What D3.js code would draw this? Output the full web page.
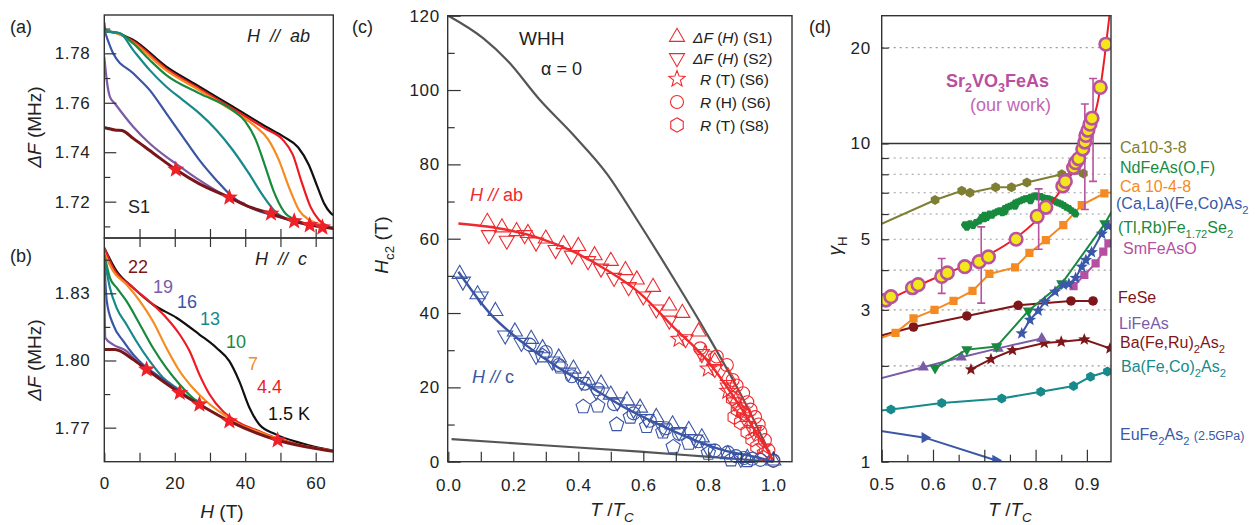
<!DOCTYPE html>
<html><head><meta charset="utf-8">
<script src="https://cdn.jsdelivr.net/npm/d3@7"></script>
<style>
body{margin:0;background:#fff}
text{font-family:Arial,"Liberation Sans",Helvetica,sans-serif;white-space:pre}
</style></head>
<body><svg id="c" width="1260" height="525"></svg>
<script>
// ---------------- DATA ----------------
// Panel (a): ΔF vs H, H // ab, sample S1  [H (T), ΔF (MHz)]
const aK1_5 = [[0,1.789],[3,1.7884],[8,1.7856],[17.6,1.7746],[27,1.7665],[36.4,1.7585],[45.9,1.7503],[51,1.7462],[55,1.742],[58,1.735],[60.5,1.726],[62.5,1.719],[64.2,1.7155],[65,1.7145]];
const aK4_4 = [[0,1.7925],[0.4,1.789],[3.5,1.7882],[8.2,1.7849],[17.6,1.7738],[27,1.7657],[36.4,1.7577],[45.9,1.7494],[50.5,1.7453],[53.5,1.739],[56,1.728],[58.5,1.718],[61,1.7125],[64,1.7098],[65,1.7093]];
const aK7 = [[0,1.789],[3.5,1.7881],[8.2,1.7843],[17.6,1.7731],[27,1.765],[36.4,1.7568],[43,1.7503],[46.5,1.7452],[49.5,1.737],[52.5,1.7255],[55.3,1.7165],[58,1.7128],[61,1.711],[65,1.7093]];
const aK10 = [[0,1.789],[4.4,1.7881],[8.2,1.784],[12.9,1.7773],[17.6,1.7712],[27,1.7638],[36.4,1.757],[40,1.7525],[43,1.745],[45.5,1.735],[48,1.7245],[51,1.716],[54.5,1.7125],[58,1.7108],[65,1.7093]];
const aK13 = [[0,1.789],[4.4,1.7881],[8.2,1.7813],[12.9,1.7732],[17.6,1.7665],[22.3,1.7611],[27,1.7557],[31.8,1.749],[36.4,1.741],[41,1.7315],[45,1.7225],[48.5,1.716],[52,1.7128],[56,1.7112],[65,1.7093]];
const aK16 = [[0,1.7894],[2.5,1.780],[8.2,1.7719],[12.9,1.7651],[17.6,1.7557],[22.3,1.7462],[27,1.7368],[31.8,1.7287],[36.4,1.7219],[42,1.7172],[47.7,1.7145],[53,1.7125],[65,1.7093]];
const aK19 = [[0,1.7786],[0.8,1.768],[1.6,1.7624],[3,1.7597],[8.2,1.7503],[12.9,1.7435],[17.6,1.7381],[20.5,1.7352],[27,1.7287],[33,1.7235],[40,1.719]];
const aK22 = [[0,1.750],[3,1.749],[5,1.7488],[8.2,1.7456],[14,1.7395],[20.3,1.733],[27,1.7272],[35.5,1.7217],[41,1.718],[47.3,1.7152],[53.9,1.7121],[58.3,1.7105],[61.9,1.7098],[65,1.7091]];
const aStars = [[20.3,1.733],[35.5,1.7217],[47.3,1.7152],[53.9,1.7121],[58.3,1.7105],[61.9,1.7096]];

// Panel (b): ΔF vs H, H // c
const bK1_5 = [[0,1.8503],[3.5,1.8399],[8.2,1.8325],[13.8,1.825],[20.5,1.8191],[27,1.8116],[31.8,1.8057],[35.5,1.7997],[38.3,1.7908],[41.2,1.7789],[44,1.7714],[48.7,1.767],[55.3,1.7633],[60,1.7613],[65,1.7598]];
const bK4_4 = [[0,1.8503],[2.5,1.8414],[8.2,1.8325],[13.8,1.825],[17.6,1.8191],[21.4,1.8116],[24.2,1.8042],[27,1.7937],[29.9,1.7848],[33.6,1.7774],[38.3,1.7722],[44,1.7684],[49.2,1.7652],[55,1.7625],[65,1.7597]];
const bK7 = [[0,1.848],[2.5,1.8399],[6.3,1.8339],[10.1,1.8265],[13.8,1.8175],[17.6,1.8057],[21.4,1.7952],[25.1,1.7878],[28.9,1.7818],[34.6,1.7751],[38.3,1.7714],[44,1.768],[50,1.7645],[65,1.7597]];
const bK10 = [[0,1.8473],[1.6,1.8369],[3.5,1.8325],[6.3,1.8265],[10.1,1.8161],[13.8,1.8057],[17.6,1.7967],[21.4,1.7893],[25.1,1.7833],[28,1.7805]];
const bK13 = [[0,1.8458],[1.6,1.8325],[3.5,1.8235],[6.3,1.8161],[9.1,1.8086],[12.9,1.7997],[16.7,1.7923],[20.5,1.7878],[24.2,1.7833],[27,1.781]];
const bK16 = [[0,1.8443],[0.7,1.8265],[2.5,1.8161],[5.4,1.8086],[8.2,1.8027],[11,1.7982],[14.8,1.7937],[18.6,1.7893],[21.4,1.7863]];
const bK19 = [[0,1.8354],[0.3,1.8101],[2.5,1.8071],[6.3,1.8042],[9.1,1.7997],[11.5,1.796]];
const bK22 = [[0,1.8049],[3,1.8049],[8.2,1.8004],[12,1.796],[21.4,1.7856],[27,1.7804],[35.5,1.7729],[49.2,1.7644],[60,1.7607],[65,1.7595]];
const bStars = [[12,1.796],[21.4,1.7856],[27,1.7804],[35.5,1.7729],[49.2,1.7644]];
const bTempLabels = ["22","19","16","13","10","7","4.4","1.5 K"];

// Panel (c): Hc2 vs T/Tc
const whhAb = [[0,120],[0.108,113.9],[0.18,108.1],[0.282,97.3],[0.385,87.9],[0.487,77.6],[0.585,64.5],[0.692,49.5],[0.795,34.5],[0.898,18.4],[0.949,9.6],[1,0]];
const whhC = [[0.01,6.1],[0.28,4.5],[0.59,2.7],[0.795,1.35],[1,0]];
const fitAb = [[0.031,64.1],[0.18,62.4],[0.282,60.1],[0.385,56.5],[0.487,51.6],[0.59,45.3],[0.692,36.3],[0.795,27.4],[0.898,14.8],[0.949,7.6],[0.99,1.8],[1,0]];
const fitC = [[0.031,51.1],[0.128,39.9],[0.231,31.9],[0.333,25.6],[0.436,20.2],[0.538,14.8],[0.641,10.3],[0.744,6.3],[0.846,3.1],[0.949,1.2],[1,0]];
const abS1 = [[0.12,64.5],[0.165,63],[0.21,62],[0.245,61.5],[0.30,60],[0.355,58.5],[0.40,58],[0.45,55.5],[0.50,54],[0.545,51.5],[0.58,49],[0.63,47],[0.68,42],[0.72,40],[0.77,35],[0.82,27],[0.86,23],[0.89,17],[0.92,12]];
const abS2 = [[0.125,61],[0.18,59.5],[0.235,61],[0.27,59],[0.33,57],[0.38,55.5],[0.43,54],[0.47,52],[0.51,49.5],[0.555,47],[0.6,44.5],[0.64,41],[0.68,38],[0.73,33],[0.78,29],[0.82,25],[0.86,20],[0.88,16],[0.91,12],[0.94,8]];
const abS6T = [[0.71,33],[0.79,29],[0.8,25],[0.86,19],[0.9,14],[0.94,9],[0.97,4]];
const abS6H = [[0.775,30.5],[0.826,28.3],[0.857,26],[0.875,22],[0.887,20.5],[0.907,18.4],[0.92,16],[0.93,14],[0.944,12],[0.955,10],[0.96,8],[0.974,5.8],[0.985,3],[1.0,0.3]];
const abS8 = [[0.875,17],[0.88,12],[0.89,14],[0.90,10.5],[0.91,13],[0.92,8],[0.935,6],[0.95,4],[0.97,2]];
const cS1 = [[0.035,50.5],[0.09,45],[0.145,40.5],[0.205,35],[0.255,33],[0.29,30.5],[0.34,28],[0.385,25],[0.43,22],[0.47,21],[0.50,18],[0.55,16.5],[0.59,14.5],[0.64,12],[0.69,10],[0.74,8.5],[0.78,6.5],[0.86,2],[0.92,1],[1.0,0.3]];
const cS2 = [[0.045,48.5],[0.1,44.5],[0.175,34],[0.225,32],[0.27,28.5],[0.32,27],[0.37,24],[0.41,21.5],[0.455,19],[0.52,16],[0.57,14],[0.61,11.5],[0.66,9],[0.71,8],[0.76,6],[0.8,3.5],[0.9,0.8]];
const cS6H = [[0.25,31.5],[0.3,29.5],[0.34,26],[0.38,23],[0.42,21],[0.46,19.5],[0.51,15.5],[0.57,13],[0.62,11],[0.67,9],[0.71,7.5],[0.77,5.5],[0.82,3],[0.86,2.5],[0.885,1.5],[0.91,1],[0.935,0.8],[0.96,0.5],[1.0,0.3]];
const cS8 = [[0.29,28.5],[0.345,25.5],[0.415,14.8],[0.46,15],[0.518,10],[0.56,12],[0.61,9.5],[0.66,8],[0.692,4],[0.74,5],[0.8,2.3],[0.87,0.5],[0.92,0.3]];
const legendC = ["(S1)","(S2)","(S6)","(S6)","(S8)"];

// Panel (d): gamma_H vs T/Tc  [T/Tc, gamma]
const ourWork = [[0.508,3.22],[0.518,3.3],[0.56,3.52],[0.571,3.6],[0.617,3.82],[0.628,3.92],[0.662,4.1],[0.69,4.25],[0.708,4.4],[0.762,5.0],[0.803,5.9],[0.82,6.3],[0.853,7.35],[0.858,7.6],[0.874,8.4],[0.878,8.7],[0.884,8.95],[0.892,9.6],[0.896,10.1],[0.898,10.6],[0.902,11.0],[0.906,11.5],[0.91,12.0],[0.926,15.0],[0.937,20.5]];
const ourFit = [[0.5,3.15],[0.55,3.45],[0.6,3.75],[0.65,4.05],[0.7,4.4],[0.75,4.9],[0.8,5.7],[0.84,6.8],[0.87,8.0],[0.89,9.3],[0.91,11.5],[0.925,14.5],[0.935,19],[0.944,25.2]];
const ourErr = [[0.617,3.38,4.35],[0.694,3.15,5.47],[0.806,4.65,7.2],[0.896,6.2,13.3],[0.912,7.6,16.0]];
const ca1038 = [[0.47,5.32],[0.604,6.64],[0.656,7.1],[0.672,7.0],[0.722,7.28],[0.753,7.28],[0.783,7.54],[0.851,8.0],[0.893,8.05]];
const ndFeAsOF = [[0.662,5.55],[0.666,5.45],[0.672,5.6],[0.678,5.52],[0.684,5.65],[0.69,5.7],[0.695,5.85],[0.70,5.95],[0.705,5.85],[0.71,6.0],[0.715,5.95],[0.72,6.05],[0.725,6.1],[0.73,6.15],[0.735,6.05],[0.74,6.25],[0.745,6.3],[0.75,6.35],[0.755,6.4],[0.76,6.5],[0.765,6.55],[0.77,6.6],[0.775,6.65],[0.78,6.7],[0.785,6.72],[0.79,6.78],[0.795,6.8],[0.80,6.85],[0.805,6.78],[0.81,6.82],[0.815,6.75],[0.82,6.72],[0.825,6.7],[0.83,6.65],[0.835,6.62],[0.84,6.55],[0.845,6.5],[0.85,6.45],[0.855,6.38],[0.86,6.3],[0.865,6.25],[0.87,6.15],[0.875,6.08],[0.878,6.0],[0.76,6.35],[0.79,6.6],[0.82,6.55],[0.70,5.8],[0.74,6.1]];
const ca1048 = [[0.47,2.36],[0.527,2.54],[0.562,2.82],[0.603,3.0],[0.64,3.2],[0.677,3.44],[0.71,3.89],[0.76,4.08],[0.788,4.53],[0.82,4.97],[0.854,5.54],[0.89,6.4],[0.934,6.97],[0.97,7.1]];
const caLaFeCo = [[0.773,2.53],[0.789,2.79],[0.805,2.98],[0.818,3.18],[0.838,3.42],[0.854,3.6],[0.865,3.62],[0.878,3.78],[0.89,4.1],[0.898,4.3],[0.909,4.55],[0.929,5.2],[0.942,5.5]];
const tlRbFeSe = [[0.604,1.97],[0.666,2.25],[0.724,2.30],[0.786,2.98],[0.851,3.63],[0.935,5.6],[0.96,6.6]];
const smFeAsO = [[0.874,3.56],[0.895,3.86],[0.917,4.2],[0.932,4.57],[0.942,4.85]];
const feSe = [[0.47,2.42],[0.562,2.65],[0.666,2.87],[0.766,3.1],[0.869,3.2],[0.912,3.2]];
const liFeAs = [[0.47,1.78],[0.581,1.98],[0.655,2.13],[0.727,2.27],[0.812,2.44]];
const baFeRu = [[0.674,1.95],[0.713,2.10],[0.755,2.24],[0.817,2.36],[0.85,2.38],[0.895,2.42],[0.945,2.27]];
const baFeCo = [[0.47,1.43],[0.518,1.46],[0.617,1.53],[0.734,1.58],[0.81,1.66],[0.874,1.73],[0.907,1.85],[0.94,1.92]];
const euFe2As2 = [[0.47,1.27],[0.584,1.19],[0.722,1.01]];

// tick values
const aYMajor = [1.72,1.74,1.76,1.78], aYMinor = [1.71,1.73,1.75,1.77,1.79];
const bYMajor = [1.77,1.80,1.83], bYMinor = [1.785,1.815,1.845];
const hTicks = [0,10,20,30,40,50,60];
const cYMajor = [0,20,40,60,80,100,120], cYMinor = [10,30,50,70,90,110];
const cXTicks = [0,0.1,0.2,0.3,0.4,0.5,0.6,0.7,0.8,0.9,1.0];
const dYTicks = [1,2,3,4,5,6,7,8,9,10,20], dYLabels = [1,3,5,10,20], dYGrid = [2,3,4,5,6,7,8,9,20];
const dXMajor = [0.5,0.6,0.7,0.8,0.9], dXMinor = [0.55,0.65,0.75,0.85];

// ---------------- HELPERS ----------------
const svg = d3.select('#c');
const FONT = 'Arial, "Liberation Sans", Helvetica, sans-serif';
const AX = '#333';
function polyPath(n, r, startDeg){
  const pts = d3.range(n).map(i=>{const a=(startDeg+i*360/n)*Math.PI/180;return [r*Math.cos(a),r*Math.sin(a)];});
  return 'M'+pts.map(p=>p[0].toFixed(2)+','+p[1].toFixed(2)).join('L')+'Z';
}
function starPath(ro, ri){
  const pts = d3.range(10).map(i=>{const r=i%2?ri:ro;const a=(-90+i*36)*Math.PI/180;return [r*Math.cos(a),r*Math.sin(a)];});
  return 'M'+pts.map(p=>p[0].toFixed(2)+','+p[1].toFixed(2)).join('L')+'Z';
}
function circlePath(r){return `M${r},0A${r},${r} 0 1,1 ${-r},0A${r},${r} 0 1,1 ${r},0Z`;}
function markers(g, data, x, y, path, fill, stroke, sw){
  g.append('g').selectAll('path').data(data).join('path')
    .attr('d', path).attr('transform', d=>`translate(${x(d[0])},${y(d[1])})`)
    .attr('fill', fill).attr('stroke', stroke||'none').attr('stroke-width', sw||0);
}
function rich(parent, x, y, fs, parts, attrs){
  const t = parent.append('text').attr('x',x).attr('y',y).attr('font-size',fs);
  if(attrs) for(const k in attrs) t.attr(k, attrs[k]);
  let cur = 0;
  for(const p of parts){
    const [s,f] = Array.isArray(p)?[p[0],p[1]||'']:[p,''];
    const ts = t.append('tspan').text(s);
    const want = f.includes('s') ? fs*0.3 : 0;
    if(want!==cur){ts.attr('dy', want-cur); cur=want;}
    if(f.includes('i')) ts.attr('font-style','italic');
    if(f.includes('b')) ts.attr('font-weight','bold');
    if(f.includes('s')) ts.attr('font-size', fs*0.7);
    if(f.includes('m')) ts.attr('font-size', fs*0.78);
  }
  return t;
}
function styleAxis(g, fs){
  g.attr('font-size', fs||17).attr('font-family', FONT);
  g.select('.domain').remove();
  g.selectAll('line').attr('stroke', AX).attr('stroke-width', 1.2);
  g.selectAll('text').attr('fill', '#222').attr('letter-spacing', '0.6px');
}
function frame(x0,y0,x1,y1){
  svg.append('rect').attr('x',x0).attr('y',y0).attr('width',x1-x0).attr('height',y1-y0)
    .attr('fill','none').attr('stroke',AX).attr('stroke-width',1.4);
}
function clip(id,x0,y0,x1,y1){
  svg.append('clipPath').attr('id',id).append('rect').attr('x',x0).attr('y',y0).attr('width',x1-x0).attr('height',y1-y0);
}

// ---------------- PANELS (a) & (b) ----------------
const xA = d3.scaleLinear().domain([0,65]).range([104.3,333.3]);
const yA = d3.scaleLinear().domain([1.7053,1.7955]).range([238,15]);
const yB = d3.scaleLinear().domain([1.7548,1.8547]).range([461.7,238]);
clip('clipA',104.3,15,333.3,238);
clip('clipB',104.3,238,333.3,461.7);
const colK = {k1_5:'#111111',k4_4:'#ed1c24',k7:'#f68b1f',k10:'#178a3e',k13:'#16898b',k16:'#3b55a5',k19:'#7b5ba7',k22:'#7a1518'};

function drawCurves(yS, series, clipId){
  const g = svg.append('g').attr('clip-path',`url(#${clipId})`);
  const line = d3.line().x(d=>xA(d[0])).y(d=>yS(d[1])).curve(d3.curveMonotoneX);
  series.forEach(([d,c,w])=>g.append('path').attr('d',line(d)).attr('fill','none').attr('stroke',c).attr('stroke-width',w).attr('stroke-linejoin','round'));
  return g;
}
drawCurves(yA, [[aK1_5,colK.k1_5,2.2],[aK4_4,colK.k4_4,2.2],[aK7,colK.k7,2.2],[aK10,colK.k10,2.2],[aK13,colK.k13,2.2],[aK16,colK.k16,2.2],[aK19,colK.k19,2.2],[aK22,colK.k22,3]],'clipA');
markers(svg, aStars, xA, yA, starPath(9,3.8), '#ee2128');
drawCurves(yB, [[bK1_5,colK.k1_5,2.2],[bK4_4,colK.k4_4,2.2],[bK7,colK.k7,2.2],[bK10,colK.k10,2.2],[bK13,colK.k13,2.2],[bK16,colK.k16,2.2],[bK19,colK.k19,2.2],[bK22,colK.k22,3]],'clipB');
markers(svg, bStars, xA, yB, starPath(9,3.8), '#ee2128');

frame(104.3,15,333.3,238);
frame(104.3,238,333.3,461.7);
styleAxis(svg.append('g').attr('transform','translate(104.3,0)').call(d3.axisLeft(yA).tickValues(aYMajor).tickSize(-12).tickPadding(14).tickFormat(d3.format('.2f'))));
styleAxis(svg.append('g').attr('transform','translate(104.3,0)').call(d3.axisLeft(yA).tickValues(aYMinor).tickSize(-6).tickFormat('')));
styleAxis(svg.append('g').attr('transform','translate(0,238)').call(d3.axisBottom(xA).tickValues(hTicks.slice(1)).tickSize(-9).tickFormat('')));
styleAxis(svg.append('g').attr('transform','translate(0,238)').call(d3.axisTop(xA).tickValues(hTicks.slice(1)).tickSize(-9).tickFormat('')));
styleAxis(svg.append('g').attr('transform','translate(104.3,0)').call(d3.axisLeft(yB).tickValues(bYMajor).tickSize(-12).tickPadding(14).tickFormat(d3.format('.2f'))));
styleAxis(svg.append('g').attr('transform','translate(104.3,0)').call(d3.axisLeft(yB).tickValues(bYMinor).tickSize(-6).tickFormat('')));
styleAxis(svg.append('g').attr('transform','translate(0,461.7)').call(d3.axisBottom(xA).tickValues(hTicks).tickSize(-9).tickPadding(15).tickFormat(d=>d%20===0?d:'')));

rich(svg, 10, 33, 18, ['(a)'], {fill:'#222'});
rich(svg, 10, 262, 18, ['(b)'], {fill:'#222'});
rich(svg, 247, 42, 18, [['H','i'],['  //  ','i'],['ab','i']], {fill:'#222'});
rich(svg, 255, 265, 18, [['H','i'],['  //  ','i'],['c','i']], {fill:'#222'});
rich(svg, 128, 213, 18, ['S1'], {fill:'#222'});
const bLabPos = [[128,273,colK.k22],[153,293,colK.k19],[177,308,colK.k16],[200,325,colK.k13],[226,348,colK.k10],[248,370,colK.k7],[257,393,colK.k4_4],[268,420,colK.k1_5]];
bTempLabels.forEach((s,i)=>rich(svg, bLabPos[i][0], bLabPos[i][1], 18, [s], {fill:bLabPos[i][2]}));
rich(svg, 0, 0, 19, [['ΔF','i'],' (MHz)'], {fill:'#222','text-anchor':'middle',transform:'translate(41,127) rotate(-90)'});
rich(svg, 0, 0, 19, [['ΔF','i'],' (MHz)'], {fill:'#222','text-anchor':'middle',transform:'translate(41,360) rotate(-90)'});
rich(svg, 222, 518, 19, [['H','i'],' (T)'], {fill:'#222','text-anchor':'middle'});

// ---------------- PANEL (c) ----------------
const xC = d3.scaleLinear().domain([0,1.0575]).range([448.3,792]);
const yC = d3.scaleLinear().domain([0,120]).range([461.7,15.7]);
const RED = '#ee2a2e', BLUE = '#3b55a5', GRAY = '#555555';
const lineC = d3.line().x(d=>xC(d[0])).y(d=>yC(d[1])).curve(d3.curveMonotoneX);
svg.append('path').attr('d',lineC(whhAb)).attr('fill','none').attr('stroke',GRAY).attr('stroke-width',2.2);
svg.append('path').attr('d',lineC(whhC)).attr('fill','none').attr('stroke',GRAY).attr('stroke-width',2.2);
const gc = svg.append('g');
const symUp = polyPath(3,8.7,-90), symDown = polyPath(3,8.7,90), symStar = starPath(8.5,3.6), symCirc = circlePath(6.5), symHex = polyPath(6,7.2,-90), symPent = polyPath(5,7.5,-90);
markers(gc, abS1, xC, yC, symUp, 'none', RED, 1.1);
markers(gc, abS2, xC, yC, symDown, 'none', RED, 1.1);
markers(gc, abS6T, xC, yC, symStar, 'none', RED, 1.1);
markers(gc, abS6H, xC, yC, symCirc, 'none', RED, 1.1);
markers(gc, abS8, xC, yC, symHex, 'none', RED, 1.1);
markers(gc, cS1, xC, yC, symUp, 'none', BLUE, 1.1);
markers(gc, cS2, xC, yC, symDown, 'none', BLUE, 1.1);
markers(gc, cS6H, xC, yC, symCirc, 'none', BLUE, 1.1);
markers(gc, cS8, xC, yC, symPent, 'none', BLUE, 1.1);
svg.append('path').attr('d',lineC(fitAb)).attr('fill','none').attr('stroke',RED).attr('stroke-width',2.4);
svg.append('path').attr('d',lineC(fitC)).attr('fill','none').attr('stroke',BLUE).attr('stroke-width',2.4);
frame(447.7,15.7,792,461.7);
styleAxis(svg.append('g').attr('transform','translate(447.7,0)').call(d3.axisLeft(yC).tickValues(cYMajor).tickSize(-13).tickPadding(8)));
styleAxis(svg.append('g').attr('transform','translate(447.7,0)').call(d3.axisLeft(yC).tickValues(cYMinor).tickSize(-7).tickFormat('')));
styleAxis(svg.append('g').attr('transform','translate(0,461.7)').call(d3.axisBottom(xC).tickValues(cXTicks).tickSize(-10).tickPadding(17).tickFormat(d=>Math.round(d*10)%2===0?d.toFixed(1):'')));
rich(svg, 352, 33, 18, ['(c)'], {fill:'#222'});
rich(svg, 519, 45, 19, ['WHH'], {fill:'#222'});
rich(svg, 541, 75, 18, ['α = 0'], {fill:'#222'});
rich(svg, 470, 201, 18, [['H','i'],[' // ','i'],'ab'], {fill:RED});
rich(svg, 472, 383, 18, [['H','i'],[' // ','i'],'c'], {fill:BLUE});
rich(svg, 0, 0, 19, [['H','i'],['c2','s'],' (T)'], {fill:'#222','text-anchor':'middle',transform:'translate(388,245) rotate(-90)'});
rich(svg, 612, 516, 19, [['T','i'],' /',['T','i'],['C','si']], {fill:'#222','text-anchor':'middle'});
const legSyms = [symUp, symDown, symStar, symCirc, symHex];
const legRowsY = [37, 58, 79, 102, 125];
const legParts = [
  [['ΔF','i'],' (',['H','i'],') '],
  [['ΔF','i'],' (',['H','i'],') '],
  [['R','i'],' (T) '],
  [['R','i'],' (H) '],
  [['R','i'],' (T) ']
];
legSyms.forEach((s,i)=>{
  svg.append('path').attr('d',s).attr('transform',`translate(677,${legRowsY[i]})`).attr('fill','none').attr('stroke',RED).attr('stroke-width',1.1);
  rich(svg, i<2?693:700, legRowsY[i]+5.5, 15.5, legParts[i].concat([legendC[i]]), {fill:'#222'});
});

// ---------------- PANEL (d) ----------------
const xD = d3.scaleLinear().domain([0.5,0.947]).range([881.7,1111]);
const yD = d3.scaleLog().domain([1,25.2]).range([461.7,15.7]);
clip('clipD',881.7,15.7,1111,461.7);
const gGrid = svg.append('g');
dYGrid.forEach(v=>gGrid.append('line').attr('x1',881.7).attr('x2',1111).attr('y1',yD(v)).attr('y2',yD(v)).attr('stroke','#9a9a9a').attr('stroke-width',1.1).attr('stroke-dasharray','2,4'));
gGrid.append('line').attr('x1',881.7).attr('x2',1111).attr('y1',yD(10)).attr('y2',yD(10)).attr('stroke','#333').attr('stroke-width',1.4);
const gD = svg.append('g').attr('clip-path','url(#clipD)');
const lineD = d3.line().x(d=>xD(d[0])).y(d=>yD(d[1]));
function seriesD(data, color, sym, lw){
  gD.append('path').attr('d',lineD(data)).attr('fill','none').attr('stroke',color).attr('stroke-width',lw||2);
  if(sym) markers(gD, data, xD, yD, sym, color);
}
const cOlive='#7f7f33', cGreen='#178a3e', cOrange='#f58a22', cBlue='#3b58a8', cMag='#b44fa1', cDRed='#7f1619', cPurple='#7b5ca8', cTeal='#178a8b';
seriesD(euFe2As2, cBlue, polyPath(3,6.5,0));
seriesD(baFeCo, cTeal, polyPath(6,5,-90));
seriesD(baFeRu, cDRed, starPath(6.5,2.8));
seriesD(liFeAs, cPurple, polyPath(3,6.5,-90));
seriesD(feSe, cDRed, circlePath(4.8));
seriesD(smFeAsO, cMag, polyPath(4,5.8,45));
seriesD(tlRbFeSe, cGreen, polyPath(3,6.5,90));
seriesD(caLaFeCo, cBlue, starPath(6.5,2.8));
seriesD(ca1048, cOrange, polyPath(4,5.8,45));
markers(gD, ndFeAsOF, xD, yD, polyPath(6,4,0), cGreen);
seriesD(ca1038, cOlive, polyPath(6,5,-90));
gD.append('path').attr('d',d3.line().x(d=>xD(d[0])).y(d=>yD(d[1])).curve(d3.curveMonotoneX)(ourFit)).attr('fill','none').attr('stroke','#ee1c25').attr('stroke-width',2);
const gErr = gD.append('g').attr('stroke','#b9529f').attr('stroke-width',1.6);
ourErr.forEach(([t,lo,hi])=>{
  gErr.append('line').attr('x1',xD(t)).attr('x2',xD(t)).attr('y1',yD(lo)).attr('y2',yD(hi));
  gErr.append('line').attr('x1',xD(t)-4).attr('x2',xD(t)+4).attr('y1',yD(lo)).attr('y2',yD(lo));
  gErr.append('line').attr('x1',xD(t)-4).attr('x2',xD(t)+4).attr('y1',yD(hi)).attr('y2',yD(hi));
});
markers(gD, ourWork, xD, yD, circlePath(6.3), '#f3e71c', '#b9529f', 2.6);
frame(881.7,15.7,1111,461.7);
styleAxis(svg.append('g').attr('transform','translate(881.7,0)').call(d3.axisLeft(yD).tickValues(dYTicks).tickSize(-7).tickPadding(11).tickFormat(d=>dYLabels.includes(d)?d:'')));
styleAxis(svg.append('g').attr('transform','translate(0,461.7)').call(d3.axisBottom(xD).tickValues(dXMajor).tickSize(-12).tickPadding(16).tickFormat(d3.format('.1f'))));
styleAxis(svg.append('g').attr('transform','translate(0,461.7)').call(d3.axisBottom(xD).tickValues(dXMinor).tickSize(-7).tickFormat('')));
rich(svg, 809, 33, 18, ['(d)'], {fill:'#222'});
rich(svg, 0, 0, 19, [['γ','i'],['H','s']], {fill:'#222','text-anchor':'middle',transform:'translate(841,246) rotate(-90)'});
rich(svg, 1010, 516, 19, [['T','i'],' /',['T','i'],['C','si']], {fill:'#222','text-anchor':'middle'});
rich(svg, 946, 87, 18, ['Sr',['2','s'],'VO',['3','s'],'FeAs'], {fill:'#b8509f','font-weight':'bold'});
rich(svg, 970, 111, 18, ['(our work)'], {fill:'#c266b3'});
const dLabels = [
  [1120,153,cOlive,['Ca10-3-8']],
  [1120,173,cGreen,['NdFeAs(O,F)']],
  [1120,192,cOrange,['Ca 10-4-8']],
  [1116,209,cBlue,['(Ca,La)(Fe,Co)As',['2','s']]],
  [1118,233,cGreen,['(Tl,Rb)Fe',['1.72','s'],'Se',['2','s']]],
  [1123,254,cMag,['SmFeAsO']],
  [1118,303,cDRed,['FeSe']],
  [1119,329,cPurple,['LiFeAs']],
  [1120,348,cDRed,['Ba(Fe,Ru)',['2','s'],'As',['2','s']]],
  [1121,372,cTeal,['Ba(Fe,Co)',['2','s'],'As',['2','s']]],
  [1120,440,cBlue,['EuFe',['2','s'],'As',['2','s'],' ',['(2.5GPa)','m']]]
];
dLabels.forEach(([x,y,c,p])=>rich(svg, x, y, 16, p, {fill:c}));
</script></body></html>
